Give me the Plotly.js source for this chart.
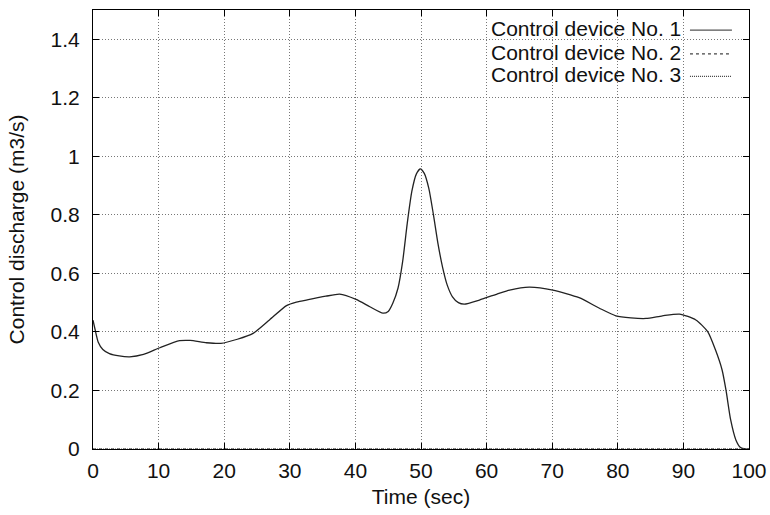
<!DOCTYPE html>
<html>
<head>
<meta charset="utf-8">
<script src="https://cdn.plot.ly/plotly-3.0.1.min.js"></script>
<style>
html, body { margin: 0; padding: 0; background: #fff; }
#chart { width: 770px; height: 515px; }
</style>
</head>
<body>
<div id="chart"></div>
<script>
// Data
const time1 = [0, 0.3, 0.8, 1.5, 2.5, 4, 5.6, 7.7, 10.2, 13.2, 14.8, 17.3, 19.5, 22, 24.4, 26.9, 29.5, 31, 33, 35.5, 37.6, 40.1, 42.2, 44.2, 45, 45.7, 46.5, 47.2, 47.9, 48.6, 49.3, 49.9, 50.5, 51.2, 51.9, 52.6, 53.3, 54, 54.8, 55.7, 56.6, 58.9, 61.9, 63.5, 66.5, 70.1, 74.1, 77.2, 79.7, 82, 84.3, 86.8, 89.4, 91.9, 93.7, 94.9, 95.9, 96.5, 97.2, 98, 98.7, 99.5, 100];
const device1 = [0.44, 0.41, 0.365, 0.34, 0.326, 0.318, 0.315, 0.323, 0.346, 0.370, 0.371, 0.363, 0.361, 0.375, 0.395, 0.441, 0.49, 0.502, 0.511, 0.522, 0.529, 0.511, 0.486, 0.464, 0.47, 0.498, 0.55, 0.64, 0.77, 0.88, 0.94, 0.957, 0.942, 0.89, 0.80, 0.70, 0.62, 0.56, 0.52, 0.50, 0.495, 0.509, 0.532, 0.543, 0.553, 0.543, 0.517, 0.481, 0.455, 0.448, 0.446, 0.455, 0.461, 0.441, 0.401, 0.338, 0.27, 0.20, 0.10, 0.031, 0.005, 0, 0];
const time23 = [0, 25, 50, 75, 100];
const device2 = [0, 0, 0, 0, 0];
const device3 = [0, 0, 0, 0, 0];
const seriesNames = ["Control device No. 1", "Control device No. 2", "Control device No. 3"];
const xTicks = [0, 10, 20, 30, 40, 50, 60, 70, 80, 90, 100];
const yTicks = [0, 0.2, 0.4, 0.6, 0.8, 1, 1.2, 1.4];

const FONT = "Liberation Sans, Arial, Helvetica, sans-serif";
const FS = 21;
const dashes = ["solid", "3px,3px", "1px,1px"];
const lineColors = ["#222", "#333", "#555"];

const traces = [
  { x: time1, y: device1, name: seriesNames[0], mode: "lines",
    line: { color: lineColors[0], width: 1.3, shape: "spline", smoothing: 0.6, dash: dashes[0] }, cliponaxis: false },
  { x: time23, y: device2, name: seriesNames[1], mode: "lines",
    line: { color: lineColors[1], width: 1.2, dash: dashes[1] }, cliponaxis: false },
  { x: time23, y: device3, name: seriesNames[2], mode: "lines",
    line: { color: lineColors[2], width: 1.2, dash: dashes[2] }, cliponaxis: false }
];

// Legend drawn gnuplot-style (text then sample on the right)
const rowY = [0.958, 0.904, 0.853];
const annotations = seriesNames.map((n, i) => ({
  xref: "paper", yref: "paper", x: 0.8994, y: rowY[i], xanchor: "right", yanchor: "middle",
  text: n, showarrow: false, font: { family: FONT, size: FS, color: "#111" }
}));
const shapes = [
  { type: "rect", xref: "paper", yref: "paper", x0: 0.604, x1: 0.994, y0: 0.822, y1: 0.993,
    fillcolor: "#fff", line: { width: 0 }, layer: "between" }
].concat(seriesNames.map((n, i) => ({
  type: "line", xref: "paper", yref: "paper", x0: 0.910, x1: 0.974, y0: rowY[i] - 0.004, y1: rowY[i] - 0.004,
  line: { color: i === 0 ? "#555" : "#444", width: 1.2, dash: dashes[i] }
})));

const axisCommon = {
  showline: true, linecolor: "#000", linewidth: 1, mirror: "ticks",
  ticks: "inside", ticklen: 6, tickcolor: "#000", tickwidth: 1,
  showgrid: true, gridcolor: "#777", griddash: "1px,2px", gridwidth: 1,
  zeroline: false, tickfont: { family: FONT, size: FS, color: "#111" }
};

const layout = {
  width: 770, height: 515,
  margin: { l: 93, r: 21, t: 10, b: 66 },
  paper_bgcolor: "#fff", plot_bgcolor: "#fff",
  showlegend: false,
  font: { family: FONT, color: "#111" },
  xaxis: Object.assign({}, axisCommon, {
    range: [0, 100], tickvals: xTicks, ticktext: xTicks.map(String), ticklabelstandoff: 3,
    title: { text: "Time (sec)", font: { family: FONT, size: FS, color: "#111" }, standoff: 8 }
  }),
  yaxis: Object.assign({}, axisCommon, {
    range: [0, 1.5], tickvals: yTicks, ticktext: yTicks.map(String), ticklabelstandoff: 8,
    title: { text: "Control discharge (m3/s)", font: { family: FONT, size: FS, color: "#111" }, standoff: 20 }
  }),
  annotations: annotations,
  shapes: shapes
};

Plotly.newPlot("chart", traces, layout, { staticPlot: true, displayModeBar: false });
</script>
</body>
</html>
